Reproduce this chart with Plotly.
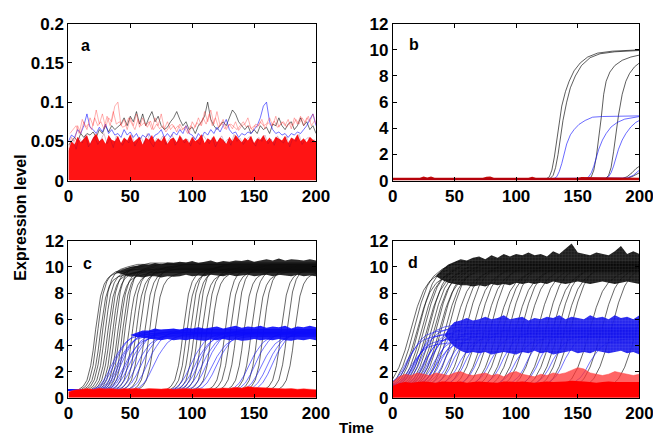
import plotly.graph_objects as go

W, H = 661, 438

# ---------------- DATA ----------------
TICKS_X = [0, 50, 100, 150, 200]
TICKS_Y_A = [0, 0.05, 0.1, 0.15, 0.2]
TICK_TEXT_Y_A = ["0", "0.05", "0.1", "0.15", "0.2"]
TICKS_Y = [0, 2, 4, 6, 8, 10, 12]

# panel a : sample times every 2.5 (and the in-between samples)
TIME_A = [i * 2.5 for i in range(81)]
TIME_A2 = [1.25 + i * 2.5 for i in range(80)]
PINK_A = [0.04, 0.055, 0.05, 0.07, 0.06, 0.075, 0.065, 0.08, 0.07, 0.09,
          0.072, 0.085, 0.068, 0.08, 0.075, 0.095, 0.1, 0.07, 0.078, 0.065,
          0.08, 0.07, 0.085, 0.068, 0.08, 0.07, 0.075, 0.065, 0.08, 0.07,
          0.085, 0.066, 0.075, 0.065, 0.07, 0.062, 0.072, 0.065, 0.07, 0.06,
          0.075, 0.068, 0.08, 0.07, 0.088, 0.075, 0.09, 0.072, 0.088, 0.07,
          0.078, 0.065, 0.072, 0.066, 0.075, 0.064, 0.07, 0.072, 0.08, 0.066,
          0.07, 0.068, 0.075, 0.07, 0.072, 0.08, 0.07, 0.082, 0.068, 0.075,
          0.07, 0.078, 0.066, 0.08, 0.072, 0.082, 0.07, 0.08, 0.075, 0.085, 0.072]
PINK2_A = [0.06, 0.065, 0.07, 0.06, 0.078, 0.068, 0.072, 0.065, 0.08, 0.07,
           0.075, 0.066, 0.082, 0.07, 0.088, 0.072, 0.075, 0.068, 0.07, 0.08,
           0.072, 0.065, 0.078, 0.07, 0.074, 0.068, 0.076, 0.065, 0.072, 0.066,
           0.07, 0.062, 0.068, 0.072, 0.066, 0.07, 0.064, 0.068, 0.06, 0.07,
           0.066, 0.074, 0.07, 0.08, 0.072, 0.085, 0.07, 0.08, 0.068, 0.074,
           0.066, 0.07, 0.072, 0.068, 0.065, 0.07, 0.075, 0.068, 0.07, 0.064,
           0.072, 0.07, 0.078, 0.066, 0.074, 0.07, 0.076, 0.068, 0.072, 0.075,
           0.068, 0.074, 0.07, 0.078, 0.072, 0.08, 0.074, 0.082, 0.07, 0.076]
BLACK_A = [0.045, 0.05, 0.055, 0.05, 0.06, 0.055, 0.06, 0.058, 0.062, 0.055,
           0.065, 0.06, 0.07, 0.062, 0.07, 0.065, 0.068, 0.072, 0.08, 0.07,
           0.082, 0.075, 0.088, 0.072, 0.085, 0.07, 0.08, 0.088, 0.075, 0.082,
           0.07, 0.065, 0.068, 0.075, 0.08, 0.088, 0.078, 0.07, 0.075, 0.065,
           0.068, 0.06, 0.07, 0.075, 0.082, 0.1, 0.078, 0.07, 0.065, 0.07,
           0.075, 0.07, 0.08, 0.09, 0.085, 0.075, 0.07, 0.065, 0.07, 0.06,
           0.065, 0.06, 0.07, 0.065, 0.068, 0.06, 0.072, 0.07, 0.08, 0.07,
           0.065, 0.072, 0.075, 0.065, 0.07, 0.08, 0.07, 0.075, 0.065, 0.07, 0.06]
BLUE_A = [0.05, 0.058, 0.055, 0.065, 0.06, 0.07, 0.085, 0.068, 0.065, 0.06,
          0.068, 0.062, 0.072, 0.06, 0.065, 0.058, 0.06, 0.055, 0.065, 0.058,
          0.062, 0.055, 0.06, 0.052, 0.058, 0.055, 0.06, 0.052, 0.058, 0.06,
          0.065, 0.055, 0.06, 0.055, 0.062, 0.058, 0.065, 0.06, 0.07, 0.06,
          0.058, 0.052, 0.06, 0.055, 0.062, 0.058, 0.065, 0.06, 0.068, 0.062,
          0.07, 0.078, 0.065, 0.06, 0.062, 0.055, 0.06, 0.058, 0.062, 0.06,
          0.065, 0.07, 0.08, 0.095, 0.1, 0.075, 0.065, 0.06, 0.062, 0.058,
          0.06, 0.055, 0.06, 0.058, 0.062, 0.06, 0.065, 0.07, 0.078, 0.085, 0.07]
RED_A_TOP = [0.038, 0.05, 0.046, 0.056, 0.049, 0.053, 0.058, 0.047, 0.055, 0.06,
             0.05, 0.054, 0.047, 0.058, 0.052, 0.05, 0.057, 0.048, 0.055, 0.051,
             0.059, 0.049, 0.053, 0.056, 0.046, 0.055, 0.052, 0.058, 0.049, 0.054,
             0.05, 0.057, 0.047, 0.053, 0.055, 0.049, 0.058, 0.051, 0.054, 0.048,
             0.056, 0.05, 0.053, 0.059, 0.048, 0.054, 0.051, 0.057, 0.049, 0.055,
             0.052, 0.047, 0.056, 0.05, 0.058, 0.053, 0.049, 0.055, 0.051, 0.057,
             0.048, 0.054, 0.052, 0.058, 0.05, 0.055, 0.049, 0.056, 0.053, 0.051,
             0.057, 0.048, 0.055, 0.052, 0.059, 0.05, 0.054, 0.049, 0.056, 0.052, 0.05]
DARK_A = [0.045, 0.052, 0.04, 0.055, 0.048, 0.058, 0.043, 0.05, 0.056, 0.046,
          0.052, 0.06, 0.047, 0.054, 0.042, 0.057, 0.05, 0.045, 0.053, 0.048,
          0.058, 0.044, 0.051, 0.055, 0.047, 0.06, 0.049, 0.043, 0.054, 0.05,
          0.057, 0.046, 0.052, 0.059, 0.045, 0.05, 0.055, 0.048, 0.053, 0.044,
          0.056, 0.05, 0.046, 0.058, 0.052, 0.047, 0.055, 0.043, 0.051, 0.057,
          0.048, 0.053, 0.045, 0.059, 0.05, 0.054, 0.046, 0.052, 0.056, 0.049,
          0.044, 0.055, 0.05, 0.058, 0.047, 0.053, 0.045, 0.057, 0.051, 0.048,
          0.056, 0.043, 0.054, 0.05, 0.059, 0.046, 0.052, 0.055, 0.048, 0.053]

# panel b : individual trajectories (time, level)
B_BLACK = [
    ([0, 124, 127, 129, 131, 133, 135, 137, 140, 143, 147, 152, 158, 166, 178, 200],
     [0.1, 0.1, 0.3, 0.8, 1.8, 3.2, 4.6, 5.7, 6.8, 7.6, 8.4, 9.0, 9.45, 9.75, 9.9, 10.0]),
    ([0, 127, 130, 132, 134, 136, 138, 141, 144, 148, 153, 160, 168, 180, 200],
     [0.1, 0.1, 0.4, 1.0, 2.0, 3.3, 4.6, 6.0, 7.1, 8.0, 8.8, 9.4, 9.7, 9.85, 9.95]),
    ([0, 158, 161, 163, 165, 167, 169, 171, 173, 176, 180, 186, 193, 200],
     [0.1, 0.1, 0.3, 0.8, 1.8, 3.2, 4.8, 6.6, 7.6, 8.3, 8.8, 9.2, 9.45, 9.6]),
    ([0, 172, 175, 177, 179, 181, 183, 186, 189, 192, 196, 200],
     [0.1, 0.1, 0.4, 1.0, 2.2, 3.7, 5.0, 6.6, 7.6, 8.2, 8.7, 9.0]),
    ([0, 185, 190, 194, 197, 200], [0.1, 0.1, 0.3, 0.6, 0.9, 1.1]),
    ([0, 190, 195, 200], [0.1, 0.15, 0.35, 0.6]),
]
B_BLUE = [
    ([0, 130, 133, 135, 137, 139, 141, 144, 147, 151, 156, 162, 170, 200],
     [0.1, 0.1, 0.3, 0.7, 1.3, 2.0, 2.8, 3.5, 3.9, 4.3, 4.6, 4.85, 4.9, 4.95]),
    ([0, 156, 159, 161, 163, 165, 167, 170, 173, 177, 182, 188, 195, 200],
     [0.1, 0.1, 0.3, 0.6, 1.1, 1.7, 2.4, 3.1, 3.6, 4.1, 4.45, 4.7, 4.85, 4.9]),
    ([0, 172, 175, 177, 179, 181, 183, 186, 189, 193, 197, 200],
     [0.1, 0.1, 0.3, 0.6, 1.1, 1.7, 2.4, 3.1, 3.6, 4.1, 4.45, 4.6]),
    ([0, 190, 195, 198, 200], [0.1, 0.2, 0.4, 0.6, 0.8]),
]
B_RED_T = [0, 22, 25, 28, 31, 34, 73, 76, 79, 82, 110, 113, 116, 150, 153, 200]
B_RED_V = [0.22, 0.22, 0.32, 0.24, 0.32, 0.22, 0.22, 0.3, 0.32, 0.22, 0.22, 0.3, 0.22, 0.22, 0.28, 0.22]

# rise templates (offset from mid-switch time, fraction of the jump)
C_BLACK_DT = [-14, -10, -7, -4, -2, 0, 2, 4, 7, 10, 14, 20, 28]
C_BLACK_FR = [0, 0.03, 0.08, 0.2, 0.33, 0.5, 0.66, 0.78, 0.88, 0.93, 0.96, 0.98, 1.0]
C_BLUE_DT = [-18, -13, -9, -5, -2, 0, 3, 6, 10, 15, 22, 32]
C_BLUE_FR = [0, 0.04, 0.12, 0.26, 0.4, 0.5, 0.62, 0.72, 0.84, 0.92, 0.97, 1.0]
D_BLACK_DT = [-20, -15, -10, -5, 0, 5, 10, 15, 22, 30]
D_BLACK_FR = [0, 0.05, 0.15, 0.3, 0.5, 0.68, 0.82, 0.9, 0.96, 1.0]
D_BLUE_DT = [-18, -13, -8, -4, 0, 4, 8, 13, 20, 30]
D_BLUE_FR = [0, 0.05, 0.15, 0.3, 0.5, 0.66, 0.8, 0.9, 0.96, 1.0]

# panel c
C_BLACK_MID = [22, 24, 26, 28, 30, 32, 34, 36, 38, 40, 42, 44, 46, 49, 52, 55, 58, 62, 66, 70,
               93, 96, 99, 102, 105, 108, 112, 116, 127, 131, 136, 142, 148, 153, 158, 172, 177, 183]
C_BLACK_PLAT = [9.8, 10.0, 9.6, 10.2, 9.9, 9.7, 10.1, 9.8, 10.3, 9.6, 10.0, 9.9, 10.2, 9.7, 10.0, 9.8, 10.1, 9.9, 10.2, 9.7,
                10.0, 9.8, 10.1, 9.9, 10.3, 9.7, 10.0, 9.8, 10.1, 9.9, 10.2, 9.8, 10.0, 9.7, 10.1, 9.9, 10.2, 9.8]
C_BLUE_MID = [36, 38, 40, 42, 44, 46, 48, 50, 53, 56, 60, 65, 70,
              100, 103, 106, 109, 113, 117, 121, 147, 152, 157, 162, 166]
C_BLUE_PLAT = [4.9, 5.1, 4.8, 5.0, 5.2, 4.7, 5.0, 4.9, 5.1, 4.8, 5.0, 5.2, 4.9,
               5.0, 4.8, 5.1, 4.9, 5.2, 4.7, 5.0, 4.9, 5.1, 4.8, 5.0, 5.2]
C_BASE = 0.6
C_BAND_BLACK_T = [38, 42, 46, 50, 55, 60, 65, 70, 75, 80, 85, 90, 95, 100, 105, 110, 115, 120,
                  125, 130, 135, 140, 145, 150, 155, 160, 165, 170, 175, 180, 185, 190, 195, 200]
C_BAND_BLACK_LO = [9.6, 9.45, 9.35, 9.25, 9.3, 9.2, 9.3, 9.3, 9.2, 9.3, 9.25, 9.3, 9.4, 9.3, 9.35, 9.3, 9.4, 9.35,
                   9.3, 9.4, 9.3, 9.35, 9.4, 9.3, 9.35, 9.4, 9.3, 9.4, 9.35, 9.3, 9.4, 9.3, 9.35, 9.3]
C_BAND_BLACK_HI = [9.6, 9.75, 9.9, 10.0, 10.1, 10.2, 10.15, 10.3, 10.2, 10.35, 10.3, 10.4, 10.35, 10.45, 10.3, 10.4, 10.5, 10.35,
                   10.45, 10.4, 10.5, 10.45, 10.55, 10.4, 10.5, 10.6, 10.5, 10.65, 10.5, 10.6, 10.55, 10.5, 10.6, 10.5]
C_BAND_BLUE_T = [50, 55, 60, 65, 70, 75, 80, 85, 90, 95, 100, 105, 110, 115, 120,
                 125, 130, 135, 140, 145, 150, 155, 160, 165, 170, 175, 180, 185, 190, 195, 200]
C_BAND_BLUE_LO = [4.8, 4.65, 4.55, 4.5, 4.45, 4.4, 4.5, 4.4, 4.45, 4.4, 4.5, 4.4, 4.35, 4.45, 4.4,
                  4.5, 4.4, 4.45, 4.35, 4.4, 4.5, 4.4, 4.45, 4.4, 4.5, 4.4, 4.35, 4.45, 4.4, 4.5, 4.4]
C_BAND_BLUE_HI = [4.8, 5.0, 5.15, 5.15, 5.3, 5.2, 5.25, 5.3, 5.2, 5.35, 5.3, 5.4, 5.3, 5.35, 5.45,
                  5.3, 5.4, 5.5, 5.35, 5.45, 5.4, 5.5, 5.35, 5.45, 5.4, 5.5, 5.3, 5.45, 5.4, 5.5, 5.4]
RED_T = [i * 5 for i in range(41)]
C_RED_TOP = [0.45, 0.6, 0.65, 0.7, 0.65, 0.72, 0.68, 0.7, 0.65, 0.7, 0.68, 0.72, 0.65, 0.7, 0.68, 0.66,
             0.7, 0.65, 0.68, 0.7, 0.66, 0.7, 0.68, 0.72, 0.7, 0.75, 0.72, 0.8, 0.75, 0.85, 0.8, 0.78,
             0.75, 0.7, 0.72, 0.68, 0.7, 0.65, 0.68, 0.66, 0.62]

# panel d
D_BLACK_MID = [15, 18, 20, 22, 24, 26, 28, 30, 32, 34, 36, 38, 40, 43, 46, 50, 55, 60, 65, 70,
               75, 80, 85, 90, 95, 100, 105, 110, 118, 125, 130, 135, 140, 145, 160, 170, 178, 198]
D_BLACK_PLAT = [9.8, 10.2, 9.6, 10.4, 9.9, 10.1, 9.7, 10.3, 10.0, 9.8, 10.2, 9.6, 10.1, 9.9, 10.3, 9.7, 10.0, 10.2, 9.8, 10.1,
                9.9, 10.3, 9.7, 10.0, 10.2, 9.8, 10.1, 9.9, 10.0, 10.2, 9.8, 10.1, 9.9, 10.3, 9.7, 10.0, 10.2, 9.9]
D_BLUE_MID = [12, 14, 16, 18, 20, 22, 24, 26, 28, 30, 32, 34, 36, 38, 40, 43, 46, 50, 55, 60, 70, 80, 90,
              100, 110, 120, 130, 140, 160]
D_BLUE_PLAT = [4.8, 5.2, 4.2, 4.5, 5.0, 5.6, 5.4, 4.7, 5.1, 4.9, 5.3, 4.6, 4.3, 5.5, 5.0, 5.2, 4.8, 5.1, 4.7, 5.0, 5.3, 4.9,
               5.1, 4.6, 5.0, 5.2, 4.8, 5.0, 4.5]
D_BASE = 1.0
D_BAND_BLACK_T = [35, 40, 45, 50, 55, 60, 65, 70, 75, 80, 85, 90, 95, 100, 105, 110, 115,
                  120, 125, 130, 135, 140, 145, 150, 155, 160, 165, 170, 175, 180, 185, 190, 195, 200]
D_BAND_BLACK_LO = [9.3, 9.0, 8.8, 8.7, 8.6, 8.6, 8.5, 8.6, 8.5, 8.7, 8.6, 8.7, 8.6, 8.8, 8.7, 8.8, 8.7,
                   8.8, 8.7, 8.9, 8.8, 8.7, 8.8, 8.9, 8.8, 8.7, 8.8, 8.9, 8.8, 8.7, 8.8, 8.9, 8.8, 8.7]
D_BAND_BLACK_HI = [9.3, 9.8, 10.2, 10.4, 10.6, 10.5, 10.7, 10.8, 10.6, 10.9, 10.7, 11.0, 10.8, 11.0, 10.9, 11.1, 10.9,
                   11.0, 10.8, 11.2, 11.0, 11.4, 11.8, 11.1, 11.0, 10.9, 11.1, 11.0, 10.9, 11.2, 11.6, 11.0, 11.2, 11.0]
D_BAND_BLUE_T = [42, 46, 50, 55, 60, 65, 70, 75, 80, 85, 90, 95, 100, 105, 110, 115,
                 120, 125, 130, 135, 140, 145, 150, 155, 160, 165, 170, 175, 180, 185, 190, 195, 200]
D_BAND_BLUE_LO = [4.8, 4.3, 3.9, 3.6, 3.4, 3.5, 3.4, 3.5, 3.3, 3.4, 3.5, 3.4, 3.3, 3.5, 3.4, 3.6,
                  3.4, 3.5, 3.3, 3.4, 3.5, 3.6, 3.4, 3.5, 3.4, 3.6, 3.5, 3.4, 3.5, 3.6, 3.4, 3.5, 3.3]
D_BAND_BLUE_HI = [4.8, 5.4, 5.8, 5.9, 6.1, 5.9, 6.0, 6.2, 6.0, 6.1, 6.3, 6.0, 6.1, 6.2, 5.9, 6.1,
                  6.0, 6.2, 6.1, 6.3, 6.0, 6.2, 6.1, 6.0, 6.3, 6.1, 6.2, 6.0, 6.3, 6.1, 6.2, 6.0, 6.3]
D_RED_CORE = [0.9, 1.1, 1.2, 1.15, 1.2, 1.25, 1.2, 1.15, 1.25, 1.2, 1.2, 1.25, 1.15, 1.2, 1.25, 1.2,
              1.2, 1.15, 1.25, 1.2, 1.2, 1.25, 1.2, 1.15, 1.2, 1.25, 1.2, 1.2, 1.25, 1.3, 1.3, 1.25,
              1.2, 1.15, 1.2, 1.25, 1.2, 1.2, 1.25, 1.2, 1.2]
D_RED_TOP = [1.2, 1.6, 1.8, 1.7, 1.9, 1.8, 1.7, 1.9, 1.8, 1.7, 1.9, 2.0, 1.8, 1.7, 1.8, 1.9, 1.7,
             1.8, 1.6, 1.9, 2.0, 1.8, 1.7, 1.6, 1.8, 1.7, 1.9, 1.8, 1.9, 2.1, 2.3, 2.2, 1.9, 1.8,
             1.7, 1.8, 2.0, 1.9, 1.8, 1.7, 1.8]

# ---------------- FIGURE ----------------
FONT = "Liberation Sans"

fig = go.Figure()

PANELS = {  # pixel boxes: x0, x1, y0(top), y1(bottom)
    "a": (57, 312, 7, 171),
    "b": (391, 645, 7, 171),
    "c": (57, 312, 234, 398),
    "d": (391, 645, 234, 398),
}
AX = {"a": ("x", "y"), "b": ("x2", "y2"), "c": ("x3", "y3"), "d": ("x4", "y4")}


def add(panel, **kw):
    xa, ya = AX[panel]
    fig.add_trace(go.Scatter(xaxis=xa, yaxis=ya, showlegend=False, hoverinfo="skip", **kw))


def line(panel, t, v, color, width=0.8):
    add(panel, x=t, y=v, mode="lines", line=dict(color=color, width=width))


def band(panel, t, lo, hi, color, pattern=None):
    kw = dict(x=list(t) + list(t)[::-1], y=list(hi) + list(lo)[::-1], mode="lines",
              line=dict(width=0), fill="toself", fillcolor=color)
    if pattern:
        kw["fillpattern"] = pattern
    add(panel, **kw)


def traj(t_mid, base, plat, dts, frs):
    ts = [-40] + [t_mid + d for d in dts] + [400]
    vs = [base] + [base + f * (plat - base) for f in frs] + [plat]
    return ts, vs


# panel a
line("a", TIME_A, BLACK_A, "rgba(0,0,0,0.7)", 0.8)
line("a", TIME_A, BLUE_A, "rgba(20,20,255,0.75)", 0.8)
add("a", x=TIME_A, y=RED_A_TOP, mode="lines", line=dict(width=0), fill="tozeroy",
    fillcolor="rgba(255,0,0,0.92)")
line("a", TIME_A2, DARK_A, "rgba(110,0,70,0.35)", 0.7)
line("a", TIME_A, PINK_A, "rgba(255,60,60,0.5)", 0.8)
line("a", TIME_A2, PINK2_A, "rgba(255,60,60,0.5)", 0.8)

# panel b
for t, v in B_BLACK:
    line("b", t, v, "rgba(0,0,0,0.8)", 0.8)
for t, v in B_BLUE:
    line("b", t, v, "rgba(20,20,255,0.8)", 0.8)
add("b", x=B_RED_T, y=B_RED_V, mode="lines", line=dict(width=0), fill="tozeroy",
    fillcolor="rgba(190,0,0,0.95)")

# panel c
for m, p in zip(C_BLACK_MID, C_BLACK_PLAT):
    t, v = traj(m, C_BASE, p, C_BLACK_DT, C_BLACK_FR)
    line("c", t, v, "rgba(0,0,0,0.75)", 0.8)
band("c", C_BAND_BLACK_T, C_BAND_BLACK_LO, C_BAND_BLACK_HI, "rgba(15,15,15,0.88)")
for m, p in zip(C_BLUE_MID, C_BLUE_PLAT):
    t, v = traj(m, C_BASE, p, C_BLUE_DT, C_BLUE_FR)
    line("c", t, v, "rgba(20,20,255,0.75)", 0.8)
band("c", C_BAND_BLUE_T, C_BAND_BLUE_LO, C_BAND_BLUE_HI, "rgba(10,10,250,0.9)")
add("c", x=RED_T, y=C_RED_TOP, mode="lines", line=dict(width=0.6, color="rgba(255,60,60,0.8)"),
    fill="tozeroy", fillcolor="rgba(255,0,0,1)")

# panel d
for m, p in zip(D_BLACK_MID, D_BLACK_PLAT):
    t, v = traj(m, D_BASE, p, D_BLACK_DT, D_BLACK_FR)
    line("d", t, v, "rgba(0,0,0,0.75)", 0.8)
band("d", D_BAND_BLACK_T, D_BAND_BLACK_LO, D_BAND_BLACK_HI, "rgba(10,10,10,0.9)",
     dict(shape="+", size=3, solidity=0.2, fgcolor="rgba(120,120,120,0.9)", bgcolor="rgba(10,10,10,0.92)"))
for m, p in zip(D_BLUE_MID, D_BLUE_PLAT):
    t, v = traj(m, D_BASE, p, D_BLUE_DT, D_BLUE_FR)
    line("d", t, v, "rgba(20,20,255,0.75)", 0.8)
band("d", D_BAND_BLUE_T, D_BAND_BLUE_LO, D_BAND_BLUE_HI, "rgba(20,20,240,0.85)",
     dict(shape="+", size=3, solidity=0.2, fgcolor="rgba(140,140,255,0.9)", bgcolor="rgba(15,15,235,0.9)"))
add("d", x=RED_T, y=D_RED_TOP, mode="lines", line=dict(width=0.6, color="rgba(255,60,60,0.8)"),
    fill="tozeroy", fillcolor="rgba(255,50,50,0.75)")
add("d", x=RED_T, y=D_RED_CORE, mode="lines", line=dict(width=0), fill="tozeroy",
    fillcolor="rgba(255,0,0,1)")

# ---------------- LAYOUT ----------------
tickfont = dict(family=FONT, size=17, color="black", weight=700)
common = dict(showgrid=False, zeroline=False, showline=True, linecolor="black", linewidth=1,
              mirror="allticks", ticks="inside", ticklen=4, tickcolor="black", tickwidth=1,
              tickfont=tickfont)
layout = dict(width=W, height=H, autosize=False, margin=dict(l=0, r=0, t=0, b=0),
              paper_bgcolor="white", plot_bgcolor="white")
for i, key in enumerate(["a", "b", "c", "d"]):
    x0, x1, y0, y1 = PANELS[key]
    sfx = "" if i == 0 else str(i + 1)
    layout["xaxis" + sfx] = dict(domain=[x0 / W, x1 / W], range=[0, 200], tickvals=TICKS_X,
                                 ticktext=["<b>%d</b>" % v for v in TICKS_X],
                                 anchor="y" + sfx, **common)
    if key == "a":
        ydict = dict(range=[0, 0.2], tickvals=TICKS_Y_A,
                     ticktext=["<b>%s</b>" % s for s in TICK_TEXT_Y_A])
    else:
        ydict = dict(range=[0, 12], tickvals=TICKS_Y, ticktext=["<b>%d</b>" % v for v in TICKS_Y])
    layout["yaxis" + sfx] = dict(domain=[1 - y1 / H, 1 - y0 / H], anchor="x" + sfx, **ydict, **common)
fig.update_layout(**layout)

LETTERS = [("a", 75, 30), ("b", 413, 29), ("c", 77, 258), ("d", 412, 257)]
for txt, px, py in LETTERS:
    fig.add_annotation(text="<b>%s</b>" % txt, x=px / W, y=1 - py / H, xref="paper", yref="paper",
                       xanchor="center", yanchor="middle", showarrow=False,
                       font=dict(family=FONT, size=16, color="black"))
fig.add_annotation(text="<b>Expression level</b>", x=8 / W, y=1 - 210 / H, xref="paper", yref="paper",
                   xanchor="center", yanchor="middle", textangle=-90, showarrow=False,
                   font=dict(family=FONT, size=16, color="black"))
fig.add_annotation(text="<b>Time</b>", x=354 / W, y=1 - 429 / H, xref="paper", yref="paper",
                   xanchor="center", yanchor="middle", showarrow=False,
                   font=dict(family=FONT, size=15, color="black"))

fig.write_html("out.html")
